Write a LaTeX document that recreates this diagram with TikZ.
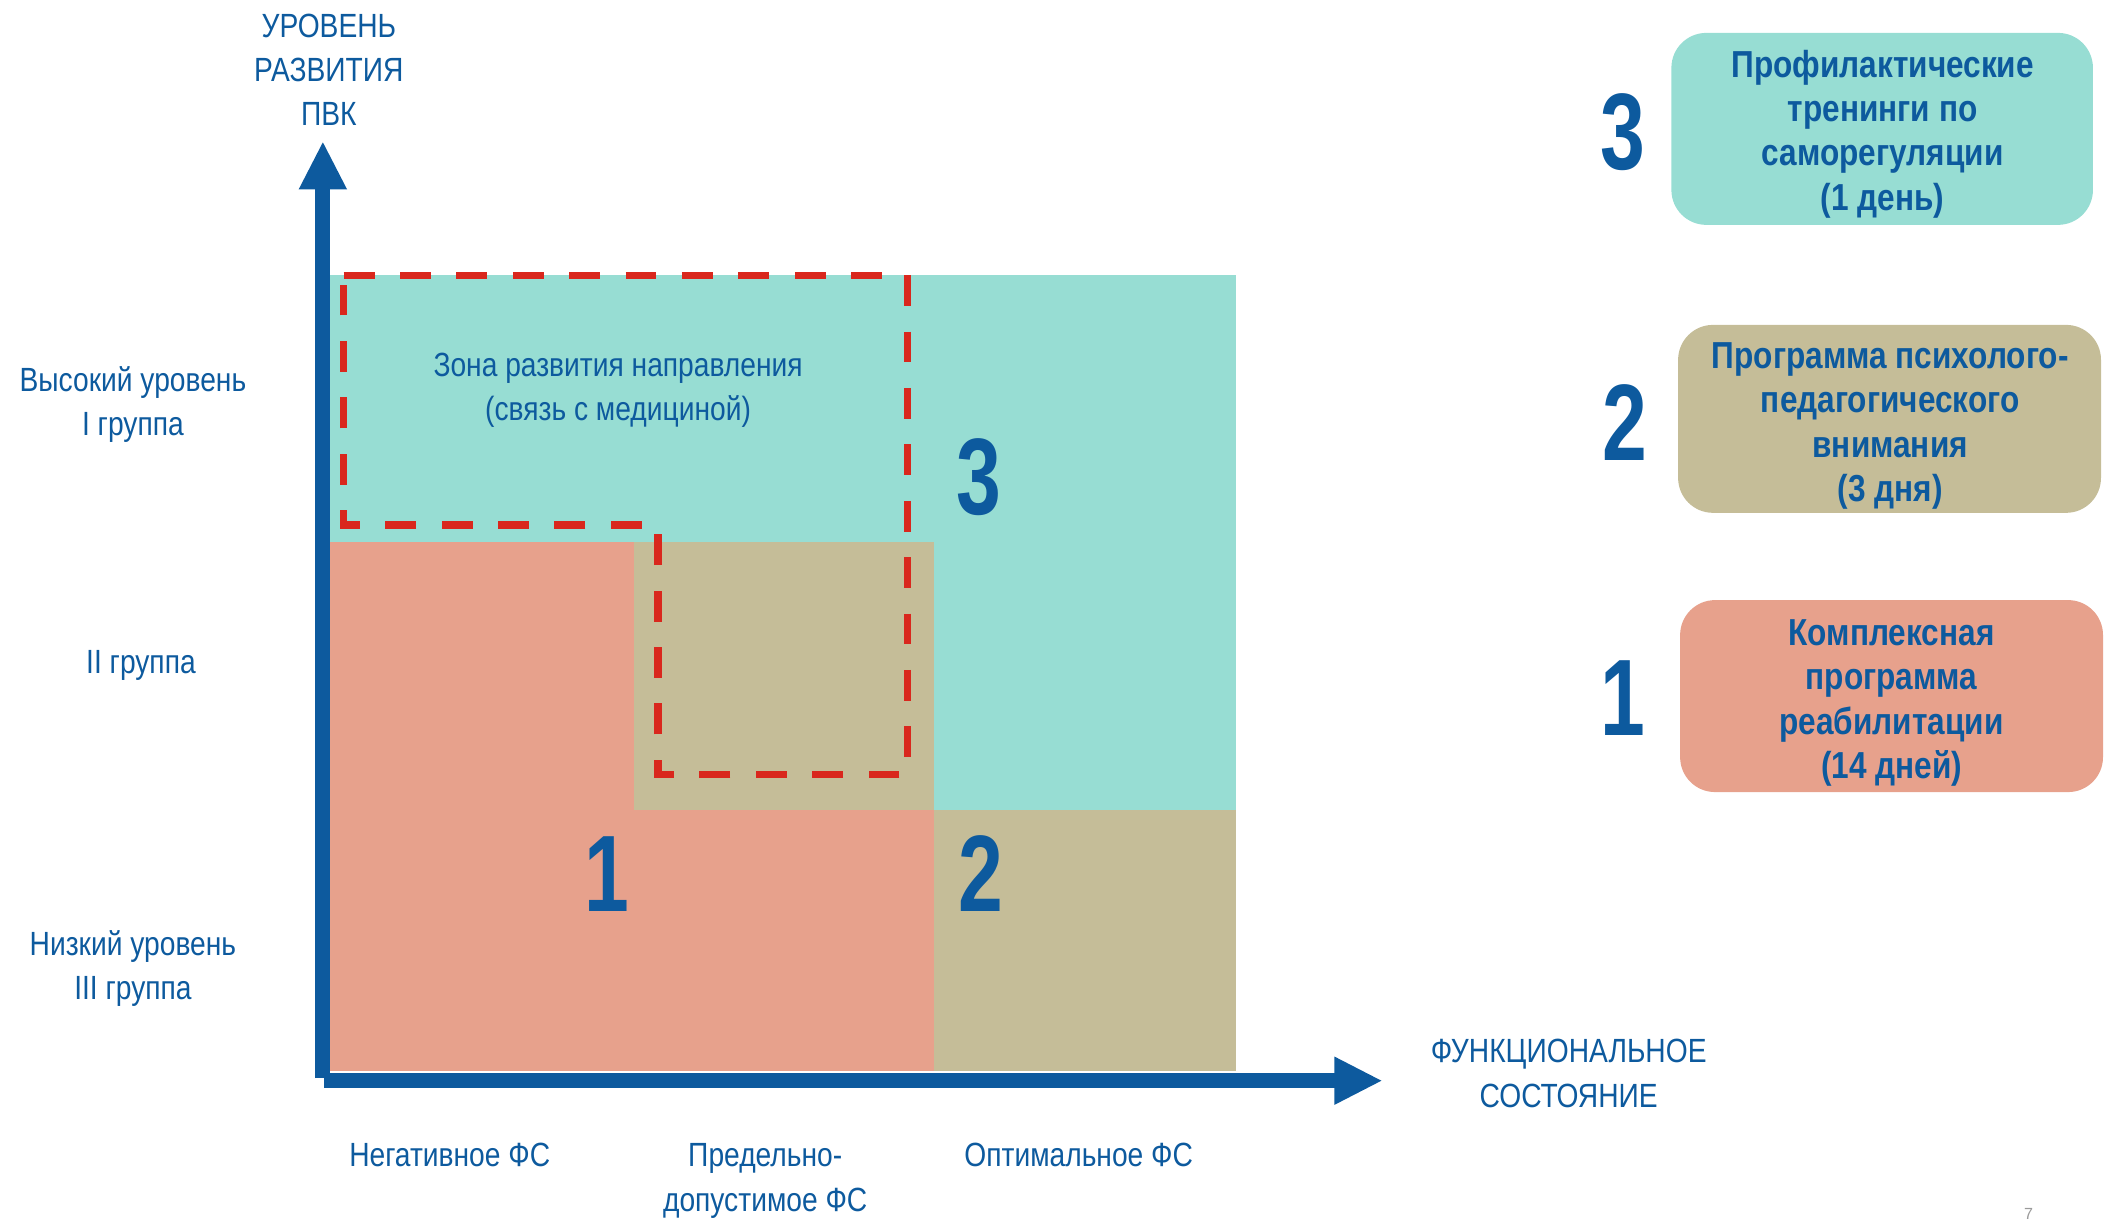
\documentclass[tikz,border=0pt]{standalone}
\usepackage{fontspec}
\setmainfont{Liberation Sans}
\newfontfamily\cond[FakeStretch=0.84]{Liberation Sans}
\newfontfamily\digitf[FakeStretch=0.74]{Liberation Sans}
\definecolor{zteal}{HTML}{97DDD3}
\definecolor{zsalmon}{HTML}{E7A18C}
\definecolor{ztan}{HTML}{C5BD98}
\definecolor{zred}{HTML}{D9271D}
\definecolor{zblue}{HTML}{0D5A9E}
\definecolor{pgnum}{HTML}{9A9A9A}
\begin{document}
\begin{tikzpicture}[x=1pt,y=-1pt,
  lbl/.style={text=zblue, font=\cond\fontsize{25}{33}\selectfont, align=center, inner sep=0pt},
  boxtxt/.style={text=zblue, font=\cond\bfseries\fontsize{28}{33}\selectfont, align=center, inner sep=0pt},
  bignum/.style={text=zblue, font=\digitf\bfseries\fontsize{81}{81}\selectfont, inner sep=0pt, anchor=base},
  axisline/.style={draw=zblue, line width=11pt},
  zoneline/.style={draw=zred, line width=5.5pt, dash pattern=on 23pt off 19pt},
  progbox/.style={rounded corners=26pt}
]
\useasboundingbox (0,0) rectangle (1568,908);

% coloured zones
\fill[zteal]   (240,205) rectangle (921,404);
\fill[zteal]   (696,404) rectangle (921,603);
\fill[zsalmon] (240,404) rectangle (472,603);
\fill[ztan]    (472,404) rectangle (696,603);
\fill[zsalmon] (240,603) rectangle (696,798);
\fill[ztan]    (696,603) rectangle (921,798);

% dashed development zone
\draw[zoneline] (256,205) -- (676,205) -- (676,577) -- (490,577) -- (490,391) -- (256,391) -- cycle;

% axes
\coordinate (yb) at (240.5,803);
\coordinate (yt) at (240.5,141);
\coordinate (xb) at (241,805);
\coordinate (xt) at (995,805);
\draw[axisline] (yb) -- (yt);
\draw[axisline] (xb) -- (xt);
\fill[zblue] (222.5,141) -- (240.5,106) -- (258.5,141) -- cycle;
\fill[zblue] (994,787) -- (1029,805) -- (994,823) -- cycle;

% axis titles
\node[lbl] (ytitle) at (245,52) {УРОВЕНЬ\\РАЗВИТИЯ\\ПВК};
\node[lbl] (xtitle) at (1168.5,799.5) {ФУНКЦИОНАЛЬНОЕ\\СОСТОЯНИЕ};

% y levels
\node[lbl] (lev1) at (99,301.5) {Высокий уровень\\I группа};
\node[lbl] (lev2) at (105,495.7) {II группа};
\node[lbl] (lev3) at (99,721.5) {Низкий уровень\\III группа};

% x states
\node[lbl] (st1) at (335,860.5) {Негативное ФС};
\node[lbl] (st2) at (570,879.7) {Предельно-\\допустимое ФС};
\node[lbl] (st3) at (803.5,860.5) {Оптимальное ФС};

% zone text
\node[lbl] (zone) at (460.4,290.7) {Зона развития направления\\(связь с медициной)};

% chart numbers
\node[bignum] (n3) at (729,383) {3};
\node[bignum] (n1) at (452,679) {1};
\node[bignum] (n2) at (731,679) {2};

% programme boxes
\fill[zteal,progbox]   (1245,24.5) rectangle (1559,167.5);
\fill[ztan,progbox]    (1250,242) rectangle (1565,382);
\fill[zsalmon,progbox] (1251.5,447) rectangle (1566.5,590);

\node[boxtxt] (t3) at (1402.4,99.7) {Профилактические\\тренинги по\\саморегуляции\\(1 день)};
\node[boxtxt] (t2) at (1408,317.2) {Программа психолого-\\педагогического\\внимания\\(3 дня)};
\node[boxtxt] (t1) at (1409,523.7) {Комплексная\\программа\\реабилитации\\(14 дней)};

\node[bignum] (r3) at (1209,126) {3};
\node[bignum] (r2) at (1210,342.8) {2};
\node[bignum] (r1) at (1208.6,548) {1};

% page number
\node[text=pgnum, font=\fontsize{12}{12}\selectfont, inner sep=0pt, anchor=base] (pg) at (1511,908.6) {7};
\end{tikzpicture}
\end{document}
